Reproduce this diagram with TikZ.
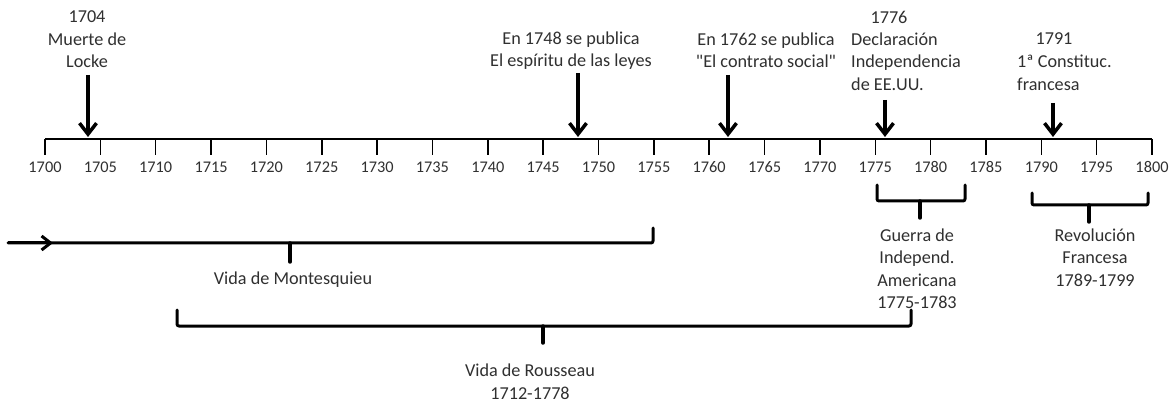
\documentclass[tikz,border=0pt]{standalone}
\usepackage{fontspec}
\newfontfamily\carl{Carlito}
\usetikzlibrary{arrows.meta}
\definecolor{txt}{HTML}{303030}
\begin{document}
\begin{tikzpicture}[x=1pt,y=-1pt,
  lbl/.style={font=\carl\fontsize{18.2}{22.5}\selectfont, text=txt, align=center, inner sep=0pt},
  yr/.style={font=\carl\fontsize{16.3}{19}\selectfont, text=txt, inner sep=0pt},
  axisline/.style={line width=2pt},
  tickline/.style={line width=1.5pt},
  evarrow/.style={line width=4pt, -{Straight Barb[length=11pt,width=17pt,line width=3.5pt]}},
  brk/.style={line width=3pt, rounded corners=2pt, line cap=round, line join=round},
  stem/.style={line width=3.5pt, line cap=round},
]
\useasboundingbox[fill=white] (0,0) rectangle (1172,403);
% axis
\coordinate (a0) at (45,139);
\coordinate (a1) at (1152,139);
\draw[axisline] (a0) -- (a1);
\foreach \yy in {1700,1705,...,1800} {
  \pgfmathsetmacro\xx{45+(\yy-1700)*11.07}
  \coordinate (tk\yy) at (\xx,139);
  \coordinate (te\yy) at (\xx,155);
  \draw[tickline] (tk\yy) -- (te\yy);
  \node[yr] (lb\yy) at (\xx,167) {\yy};
}
% events above the axis
\node[lbl] (locke) at (87,39.3) {1704\\Muerte de\\Locke};
\coordinate (lockeS) at (88,75);
\coordinate (lockeT) at (88,137);
\draw[evarrow] (lockeS) -- (lockeT);

\node[lbl] (espiritu) at (571,50.5) {En 1748 se publica\\El espíritu de las leyes};
\coordinate (espS) at (578,73);
\coordinate (espT) at (578,137);
\draw[evarrow] (espS) -- (espT);

\node[lbl] (contrato) at (766,50.5) {En 1762 se publica\\"El contrato social"};
\coordinate (conS) at (728,75);
\coordinate (conT) at (728,137);
\draw[evarrow] (conS) -- (conT);

\node[lbl] (y1776) at (889,17) {1776};
\node[lbl, align=left, anchor=west] (decl) at (851,61.7) {Declaración\\Independencia\\de EE.UU.};
\coordinate (decS) at (885,100);
\coordinate (decT) at (885,137);
\draw[evarrow] (decS) -- (decT);

\node[lbl] (y1791) at (1054,39) {1791};
\node[lbl, align=left, anchor=west] (const) at (1017,73) {1ª Constituc.\\francesa};
\coordinate (cstS) at (1053,103);
\coordinate (cstT) at (1053,137);
\draw[evarrow] (cstS) -- (cstT);

% Montesquieu
\coordinate (mA) at (8,243);
\coordinate (mB) at (53,243);
\coordinate (mE) at (653,243);
\coordinate (mEt) at (653,228);
\coordinate (mM) at (290,243);
\coordinate (mS) at (290,262);
\draw[brk] (mA) -- (mE) -- (mEt);
\draw[line width=3pt, -{Straight Barb[length=9pt,width=14pt,line width=3pt]}] (mA) -- (mB);
\draw[stem] (mM) -- (mS);
\node[lbl] (montesquieu) at (293,280) {Vida de Montesquieu};

% Rousseau
\coordinate (rL) at (177,310);
\coordinate (rLb) at (177,326);
\coordinate (rRb) at (911,326);
\coordinate (rR) at (911,310);
\coordinate (rM) at (543,326);
\coordinate (rS) at (543,343);
\draw[brk] (rL) -- (rLb) -- (rRb) -- (rR);
\draw[stem] (rM) -- (rS);
\node[lbl] (rousseau) at (530,381.5) {Vida de Rousseau\\1712-1778};

% American war
\coordinate (gL) at (877,185);
\coordinate (gLb) at (877,201);
\coordinate (gRb) at (965,201);
\coordinate (gR) at (965,185);
\coordinate (gM) at (920,201);
\coordinate (gS) at (920,218);
\draw[brk] (gL) -- (gLb) -- (gRb) -- (gR);
\draw[stem] (gM) -- (gS);
\node[lbl] (guerra) at (917,268.75) {Guerra de\\Independ.\\Americana\\1775-1783};

% French revolution
\coordinate (fL) at (1032,193);
\coordinate (fLb) at (1032,205);
\coordinate (fRb) at (1148,205);
\coordinate (fR) at (1148,193);
\coordinate (fM) at (1089,205);
\coordinate (fS) at (1089,222);
\draw[brk] (fL) -- (fLb) -- (fRb) -- (fR);
\draw[stem] (fM) -- (fS);
\node[lbl] (revol) at (1095,257.3) {Revolución\\Francesa\\1789-1799};
\end{tikzpicture}
\end{document}
